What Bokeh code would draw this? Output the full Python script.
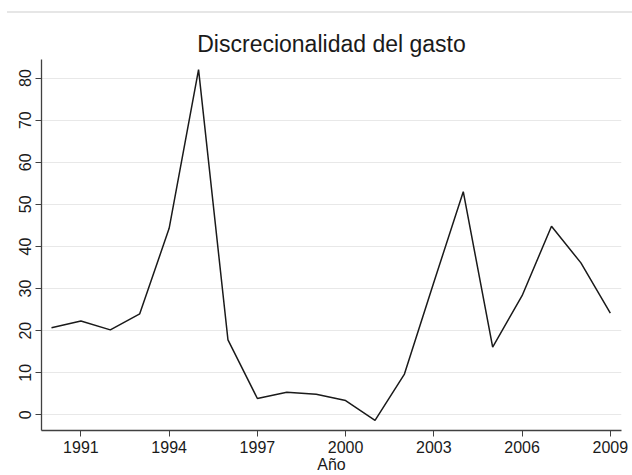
from bokeh.plotting import figure
from bokeh.layouts import column
from bokeh.models import FixedTicker, Range1d, Div
from bokeh.embed import file_html
from bokeh.resources import INLINE

years = list(range(1990, 2010))
gasto = [20.7, 22.3, 20.2, 24.0, 44.3, 82.0, 17.8, 3.9, 5.4, 4.9,
         3.4, -1.3, 9.7, 31.5, 53.0, 16.1, 28.3, 44.8, 36.1, 24.2]
x_ticks = [1991, 1994, 1997, 2000, 2003, 2006, 2009]
y_ticks = [0, 10, 20, 30, 40, 50, 60, 70, 80]

FONT = "Liberation Sans"

# thin faint rule across the top of the page
top = Div(text="", width=625, height=2, margin=(11, 0, 0, 7),
          styles={"background-color": "#e6e6e6"})

p = figure(width=632, height=462, output_backend="svg", toolbar_location=None,
           x_range=Range1d(1989.66, 2009.38), y_range=Range1d(-3.7, 84.4),
           min_border_left=41, min_border_right=11, min_border_top=46,
           min_border_bottom=44, margin=0)

p.title.text = "Discrecionalidad del gasto"
p.title.align = "center"
p.title.text_font = FONT
p.title.text_font_size = "23px"
p.title.text_font_style = "normal"
p.title.text_color = "#1a1a1a"
p.title.offset = 0
p.title.standoff = 5

p.line(years, gasto, line_color="#1a1a1a", line_width=1.5)

p.outline_line_color = None
p.background_fill_color = "white"
p.border_fill_color = "white"

p.xgrid.grid_line_color = None
p.ygrid.grid_line_color = "#e8e8e8"
p.ygrid.grid_line_width = 1

p.xaxis.ticker = FixedTicker(ticks=x_ticks)
p.yaxis.ticker = FixedTicker(ticks=y_ticks)

for ax in (p.xaxis, p.yaxis):
    ax.axis_line_color = "#404040"
    ax.axis_line_width = 1.3
    ax.major_tick_line_color = "#404040"
    ax.major_tick_out = 6
    ax.major_tick_in = 0
    ax.minor_tick_line_color = None
    ax.major_label_text_font = FONT
    ax.major_label_text_font_size = "16px"
    ax.major_label_text_color = "#1a1a1a"

p.yaxis.major_label_orientation = "vertical"
p.yaxis.major_label_standoff = 4
p.xaxis.major_label_standoff = 4
p.xaxis.axis_label = "Año"
p.xaxis.axis_label_text_font = FONT
p.xaxis.axis_label_text_font_size = "16px"
p.xaxis.axis_label_text_font_style = "normal"
p.xaxis.axis_label_text_color = "#1a1a1a"
p.xaxis.axis_label_standoff = 0

layout = column(top, p, spacing=0)
open("out.html", "w").write(file_html(layout, INLINE))
